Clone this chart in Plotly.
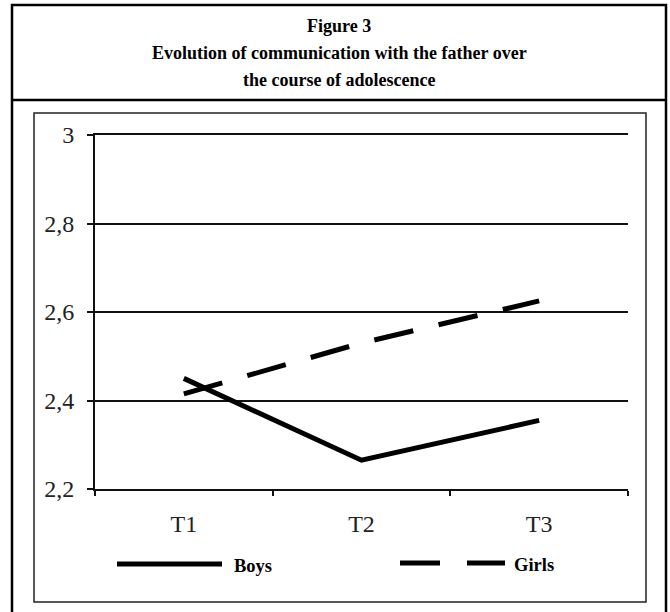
import plotly.graph_objects as go

# ---- data ----
categories = ["T1", "T2", "T3"]
boys = [2.45, 2.265, 2.355]
girls = [2.415, 2.53, 2.625]
y_tickvals = [2.2, 2.4, 2.6, 2.8, 3.0]
y_ticktext = ["2,2", "2,4", "2,6", "2,8", "3"]
title_lines = ["Figure 3",
               "Evolution of communication with the father over",
               "the course of adolescence"]
legend_names = ["Boys", "Girls"]

# ---- layout geometry (pixels, in page coordinates) ----
W, H = 670, 612
PL, PR, PT, PB = 95, 628, 135, 489  # plot area edges


def px(x):
    return (x - PL) / (PR - PL)


def py(y):
    return (PB - y) / (PB - PT)


SERIF = "Liberation Serif, Times New Roman, serif"

fig = go.Figure()
fig.add_trace(go.Scatter(x=categories, y=boys, mode="lines", name=legend_names[0],
                         line=dict(color="black", width=5), showlegend=False))
fig.add_trace(go.Scatter(x=categories, y=girls, mode="lines", name=legend_names[1],
                         line=dict(color="black", width=5, dash="40px,26px"), showlegend=False))

shapes = []
# outer frame
shapes.append(dict(type="rect", xref="paper", yref="paper", x0=px(12), x1=px(666),
                   y0=py(640), y1=py(5), line=dict(color="black", width=2.5), layer="below"))
# title divider
shapes.append(dict(type="line", xref="paper", yref="paper", x0=px(12), x1=px(666),
                   y0=py(100), y1=py(100), line=dict(color="black", width=2.5)))
# inner chart box
shapes.append(dict(type="rect", xref="paper", yref="paper", x0=px(34), x1=px(646),
                   y0=py(602), y1=py(113), line=dict(color="#222", width=1.5), layer="below"))
# legend samples
shapes.append(dict(type="line", xref="paper", yref="paper", x0=px(117), x1=px(222),
                   y0=py(564), y1=py(564), line=dict(color="black", width=5)))
shapes.append(dict(type="line", xref="paper", yref="paper", x0=px(400), x1=px(440),
                   y0=py(563), y1=py(563), line=dict(color="black", width=5)))
shapes.append(dict(type="line", xref="paper", yref="paper", x0=px(467), x1=px(505),
                   y0=py(563), y1=py(563), line=dict(color="black", width=5)))

annotations = []
for text, yc in zip(title_lines, [26, 53, 80]):
    annotations.append(dict(text="<b>%s</b>" % text, xref="paper", yref="paper",
                            x=px(339), y=py(yc), xanchor="center", yanchor="middle",
                            showarrow=False, font=dict(family=SERIF, size=18, color="black")))
annotations.append(dict(text="<b>%s</b>" % legend_names[0], xref="paper", yref="paper",
                        x=px(232), y=py(566), xanchor="left", yanchor="middle", showarrow=False,
                        font=dict(family=SERIF, size=18.5, color="black")))
annotations.append(dict(text="<b>%s</b>" % legend_names[1], xref="paper", yref="paper",
                        x=px(512), y=py(565), xanchor="left", yanchor="middle", showarrow=False,
                        font=dict(family=SERIF, size=18.5, color="black")))

fig.update_layout(
    width=W, height=H,
    margin=dict(l=PL, r=W - PR, t=PT, b=H - PB, pad=0),
    paper_bgcolor="white", plot_bgcolor="white",
    showlegend=False,
    shapes=shapes, annotations=annotations,
    xaxis=dict(type="category", range=[-0.5, 2.5], showgrid=False, zeroline=False,
               showline=True, mirror=True, linecolor="#111", linewidth=2,
               ticks="outside", tickson="boundaries", ticklen=5, tickwidth=2, tickcolor="#111",
               ticklabelstandoff=12,
               tickfont=dict(family=SERIF, size=24, color="#222")),
    yaxis=dict(range=[2.2, 3.0], tickvals=y_tickvals, ticktext=y_ticktext,
               showgrid=True, gridcolor="#111", gridwidth=2, zeroline=False,
               showline=True, linecolor="#111", linewidth=2,
               ticks="outside", ticklen=6, tickwidth=2, tickcolor="#111",
               ticklabelstandoff=8,
               tickfont=dict(family=SERIF, size=24, color="#222")),
)

fig.write_html("out.html", config={"displayModeBar": False},
               post_script="document.body.style.margin='0';document.body.style.overflow='hidden';")
